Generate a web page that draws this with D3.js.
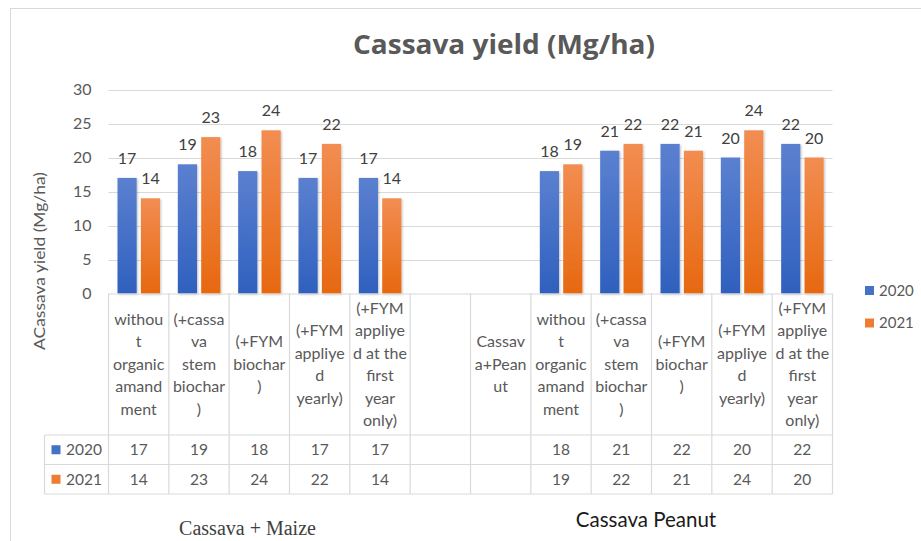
<!DOCTYPE html>
<html>
<head>
<meta charset="utf-8">
<script src="https://cdn.jsdelivr.net/npm/d3@7"></script>
<style>
  html, body { margin: 0; padding: 0; background: #fff; }
  svg { display: block; }
  text { font-family: Lato, "Open Sans", sans-serif; }
</style>
</head>
<body>
<svg id="chart" width="921" height="541"></svg>
<script>
// ---- data ----
const categoryLines = [
  ["withou", "t", "organic", "amand", "ment"],
  ["(+cassa", "va", "stem", "biochar", ")"],
  ["(+FYM", "biochar", ")"],
  ["(+FYM", "appliye", "d", "yearly)"],
  ["(+FYM", "appliye", "d at the", "first", "year", "only)"],
  [],
  ["Cassav", "a+Pean", "ut"],
  ["withou", "t", "organic", "amand", "ment"],
  ["(+cassa", "va", "stem", "biochar", ")"],
  ["(+FYM", "biochar", ")"],
  ["(+FYM", "appliye", "d", "yearly)"],
  ["(+FYM", "appliye", "d at the", "first", "year", "only)"]
];
const seriesNames = ["2020", "2021"];
const values2020 = [17, 19, 18, 17, 17, null, null, 18, 21, 22, 20, 22];
const values2021 = [14, 23, 24, 22, 14, null, null, 19, 22, 21, 24, 20];
const yTicks = [0, 5, 10, 15, 20, 25, 30];
const chartTitle = "Cassava yield (Mg/ha)";
const yTitle = "ACassava yield (Mg/ha)";
const groupLabels = ["Cassava + Maize", "Cassava Peanut"];

const seriesValues = [values2020, values2021];
const colors = { "2020": ["#5b80d0", "#2f60be"], "2021": ["#f28d52", "#e7680f"] };
const keyColors = { "2020": "#4472c4", "2021": "#ed7d31" };

const svg = d3.select("#chart");
const defs = svg.append("defs");
seriesNames.forEach(s => {
  const g = defs.append("linearGradient").attr("id", "g" + s)
    .attr("x1", 0).attr("y1", 0).attr("x2", 0).attr("y2", 1);
  g.append("stop").attr("offset", "0%").attr("stop-color", colors[s][0]);
  g.append("stop").attr("offset", "100%").attr("stop-color", colors[s][1]);
});
const f = defs.append("filter").attr("id", "shadow").attr("x", "-20%").attr("y", "-10%").attr("width", "150%").attr("height", "130%");
f.append("feDropShadow").attr("dx", 1).attr("dy", 1).attr("stdDeviation", 1).attr("flood-color", "#000").attr("flood-opacity", 0.25);

// outer frame
svg.append("line").attr("x1", 10).attr("x2", 921).attr("y1", 8.5).attr("y2", 8.5).attr("stroke", "#d9d9d9");
svg.append("line").attr("x1", 10.5).attr("x2", 10.5).attr("y1", 8).attr("y2", 541).attr("stroke", "#d9d9d9");

const plotLeft = 108.5, plotRight = 832.5, plotTop = 89.5, plotBottom = 293.5;
const x = d3.scaleBand().domain(d3.range(categoryLines.length)).range([plotLeft, plotRight]).padding(0);
const x1 = d3.scaleBand().domain(seriesNames).range([9, x.bandwidth() - 8.8]).paddingInner(0.18);
const y = d3.scaleLinear().domain([0, 30]).range([plotBottom, plotTop]);

// title
svg.append("text").attr("x", 504).attr("y", 54).attr("text-anchor", "middle")
  .attr("font-size", 26).attr("font-weight", "bold").attr("fill", "#595959")
  .attr("textLength", 302).attr("lengthAdjust", "spacingAndGlyphs")
  .style("font-family", "'Open Sans', sans-serif").text(chartTitle);

// gridlines
svg.append("g").selectAll("line").data(yTicks.slice(1)).join("line")
  .attr("x1", plotLeft).attr("x2", plotRight)
  .attr("y1", d => Math.round(y(d)) + 0.5).attr("y2", d => Math.round(y(d)) + 0.5)
  .attr("stroke", "#d9d9d9").attr("stroke-width", 1.2);

// y axis labels
const yAxis = d3.axisLeft(y).tickValues(yTicks).tickSize(0).tickPadding(0);
const ya = svg.append("g").attr("transform", `translate(${plotLeft - 17},0)`).call(yAxis);
ya.select(".domain").remove();
ya.selectAll("text").attr("font-size", 16).attr("fill", "#595959").style("font-family", "Lato, sans-serif");

// y title
svg.append("text").attr("transform", "translate(45,261) rotate(-90)").attr("text-anchor", "middle")
  .attr("font-size", 16).attr("fill", "#595959")
  .attr("textLength", 178).attr("lengthAdjust", "spacingAndGlyphs").text(yTitle);

// bars
const rows = [];
seriesNames.forEach((s, si) => seriesValues[si].forEach((v, i) => { if (v != null) rows.push({ s, i, v }); }));
svg.append("g").selectAll("rect").data(rows).join("rect")
  .attr("x", d => x(d.i) + x1(d.s)).attr("width", x1.bandwidth())
  .attr("y", d => y(d.v)).attr("height", d => y(0) - y(d.v))
  .attr("fill", d => `url(#g${d.s})`).attr("filter", "url(#shadow)");

// data labels
svg.append("g").selectAll("text").data(rows).join("text")
  .attr("x", d => x(d.i) + x1(d.s) + x1.bandwidth() / 2).attr("y", d => y(d.v) - 14)
  .attr("text-anchor", "middle").attr("font-size", 16).attr("fill", "#404040").text(d => d.v);

// axis line
svg.append("line").attr("x1", plotLeft).attr("x2", plotRight).attr("y1", plotBottom + 0.5).attr("y2", plotBottom + 0.5).attr("stroke", "#d9d9d9").attr("stroke-width", 1.2);

// data table
const tableLeft = 44.5, headerBottom = 435, row1Bottom = 464.5, row2Bottom = 494;
const grid = svg.append("g").attr("stroke", "#d9d9d9").attr("stroke-width", 1.2);
x.domain().forEach(i => {
  grid.append("line").attr("x1", x(i)).attr("x2", x(i)).attr("y1", plotBottom).attr("y2", row2Bottom);
});
grid.append("line").attr("x1", plotRight).attr("x2", plotRight).attr("y1", plotBottom).attr("y2", row2Bottom);
grid.append("line").attr("x1", tableLeft).attr("x2", tableLeft).attr("y1", headerBottom).attr("y2", row2Bottom);
[headerBottom, row1Bottom, row2Bottom].forEach(yy => {
  grid.append("line").attr("x1", tableLeft).attr("x2", plotRight).attr("y1", yy).attr("y2", yy);
});

// category labels (wrapped, vertically centred)
const lineH = 22.5, headCenter = (plotBottom + headerBottom) / 2;
const cat = svg.append("g");
categoryLines.forEach((lines, i) => {
  const n = lines.length;
  lines.forEach((ln, k) => {
    cat.append("text").attr("x", x(i) + x.bandwidth() / 2)
      .attr("y", headCenter + (k - (n - 1) / 2) * lineH)
      .attr("dy", "0.35em").attr("text-anchor", "middle")
      .attr("font-size", 16).attr("fill", "#595959").text(ln);
  });
});

// table values
const rowCenters = [(headerBottom + row1Bottom) / 2, (row1Bottom + row2Bottom) / 2];
seriesNames.forEach((s, si) => {
  svg.append("rect").attr("x", 51.5).attr("y", rowCenters[si] - 4.5).attr("width", 9).attr("height", 9).attr("fill", keyColors[s]);
  svg.append("text").attr("x", 66).attr("y", rowCenters[si]).attr("dy", "0.35em")
    .attr("font-size", 15.5).attr("fill", "#595959").text(s);
  seriesValues[si].forEach((v, i) => {
    if (v == null) return;
    svg.append("text").attr("x", x(i) + x.bandwidth() / 2).attr("y", rowCenters[si]).attr("dy", "0.35em")
      .attr("text-anchor", "middle").attr("font-size", 15.5).attr("fill", "#595959").text(v);
  });
});

// legend
const legendY = [290.5, 323];
seriesNames.forEach((s, si) => {
  svg.append("rect").attr("x", 865).attr("y", legendY[si] - 4.5).attr("width", 9).attr("height", 9).attr("fill", keyColors[s]);
  svg.append("text").attr("x", 879).attr("y", legendY[si]).attr("dy", "0.35em")
    .attr("font-size", 15).attr("fill", "#595959").text(s);
});

// group labels under the table
svg.append("text").attr("x", 247.5).attr("y", 528).attr("dy", "0.35em").attr("text-anchor", "middle")
  .attr("font-size", 20).attr("fill", "#404040").style("font-family", "'Liberation Serif', 'DejaVu Serif', serif")
  .text(groupLabels[0]);
svg.append("text").attr("x", 646).attr("y", 520).attr("dy", "0.35em").attr("text-anchor", "middle")
  .attr("font-size", 20.5).attr("fill", "#1a1a1a").text(groupLabels[1]);
</script>
</body>
</html>
